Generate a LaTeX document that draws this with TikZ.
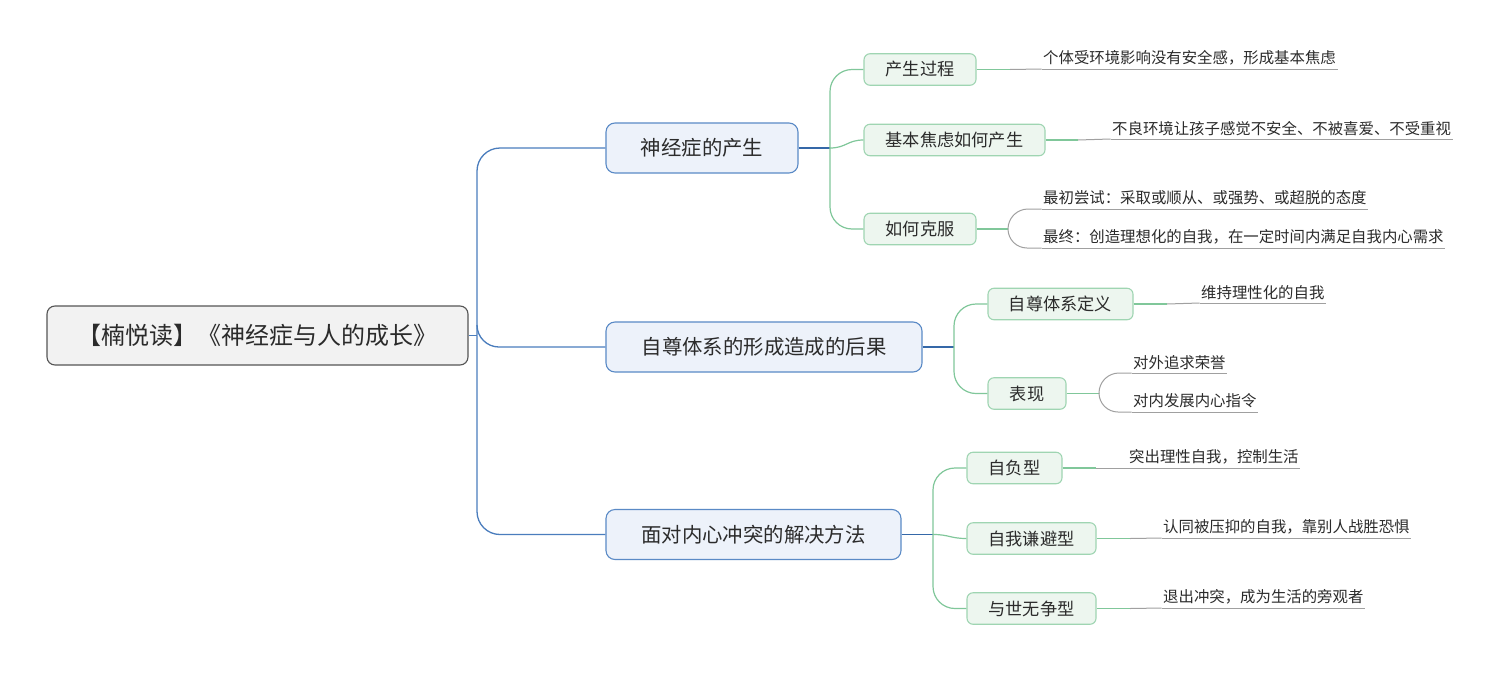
\documentclass[tikz,border=0pt]{standalone}
\usepackage{fontspec}
\setmainfont{Noto Sans CJK SC}
\definecolor{rootborder}{HTML}{555555}
\definecolor{rootfill}{HTML}{F2F2F2}
\definecolor{mainborder}{HTML}{5A8AC6}
\definecolor{mainfill}{HTML}{EDF2FA}
\definecolor{bluelink}{HTML}{4A7DBD}
\definecolor{darkbluelink}{HTML}{3568A8}
\definecolor{subborder}{HTML}{9FD5B2}
\definecolor{subfill}{HTML}{EDF6EF}
\definecolor{greenlink}{HTML}{80C79A}
\definecolor{graylink}{HTML}{A0A0A0}
\definecolor{txt}{HTML}{2B2B2B}
\begin{document}
\begin{tikzpicture}[x=1pt,y=-1pt,
  rootbox/.style={draw=rootborder, fill=rootfill, rounded corners=8pt, line width=1.1pt,
    minimum width=421pt, minimum height=59pt, inner sep=0pt,
    font=\fontsize{24}{28}\selectfont, text=txt},
  mainbox/.style={draw=mainborder, fill=mainfill, rounded corners=9pt, line width=1.1pt,
    minimum height=50pt, inner sep=0pt, font=\fontsize{20.4}{24}\selectfont, text=txt},
  subbox/.style={draw=subborder, fill=subfill, rounded corners=6pt, line width=1.1pt,
    minimum height=31.5pt, inner sep=0pt, font=\fontsize{17.2}{20}\selectfont, text=txt},
  leaf/.style={anchor=south west, inner xsep=1.5pt, inner ysep=3.5pt,
    font=\fontsize{15.4}{18}\selectfont, text=txt},
  rootline/.style={draw=bluelink, line width=1.3pt},
  mainline/.style={draw=darkbluelink, line width=1.2pt},
  greenline/.style={draw=greenlink, line width=1.2pt},
  grayline/.style={draw=graylink, line width=1pt}
]
\useasboundingbox (0,0) rectangle (1501,672);
\fill[white] (0,0) rectangle (1501,672);

% root
\node[rootbox] (root) at (257.5,335.5) {【楠悦读】《神经症与人的成长》};

% main nodes
\node[mainbox, minimum width=192pt] (m1) at (702,148) {神经症的产生};
\node[mainbox, minimum width=316pt] (m2) at (764,347) {自尊体系的形成造成的后果};
\node[mainbox, minimum width=295pt] (m3) at (753.5,534.5) {面对内心冲突的解决方法};

% sub nodes
\node[subbox, minimum width=112pt] (c11) at (920,69.5) {产生过程};
\node[subbox, minimum width=181pt] (c12) at (954.5,140) {基本焦虑如何产生};
\node[subbox, minimum width=112pt] (c13) at (920,229) {如何克服};
\node[subbox, minimum width=145pt] (c21) at (1060.5,304) {自尊体系定义};
\node[subbox, minimum width=78pt] (c22) at (1027,393.5) {表现};
\node[subbox, minimum width=95pt] (c31) at (1014.5,468) {自负型};
\node[subbox, minimum width=129pt] (c32) at (1031.5,538.5) {自我谦避型};
\node[subbox, minimum width=129pt] (c33) at (1031.5,608.5) {与世无争型};

% leaves
\node[leaf] (l11) at (1041.5,69) {个体受环境影响没有安全感，形成基本焦虑};
\node[leaf] (l12) at (1110.5,139) {不良环境让孩子感觉不安全、不被喜爱、不受重视};
\node[leaf] (l13a) at (1041.5,209) {最初尝试：采取或顺从、或强势、或超脱的态度};
\node[leaf] (l13b) at (1041.5,248) {最终：创造理想化的自我，在一定时间内满足自我内心需求};
\node[leaf] (l21) at (1199.5,303) {维持理性化的自我};
\node[leaf] (l22a) at (1131.5,373) {对外追求荣誉};
\node[leaf] (l22b) at (1131.5,412) {对内发展内心指令};
\node[leaf] (l31) at (1127.5,468) {突出理性自我，控制生活};
\node[leaf] (l32) at (1161.5,538) {认同被压抑的自我，靠别人战胜恐惧};
\node[leaf] (l33) at (1161.5,608) {退出冲突，成为生活的旁观者};

% junction coordinates
\coordinate (j0) at (477,335.5);
\coordinate (j0b) at (477,325);
\coordinate (j1) at (830,148);
\coordinate (j2) at (954,347);
\coordinate (j3) at (933,534.5);
\coordinate (k11) at (1010,69.5);
\coordinate (k12) at (1078,140);
\coordinate (k13) at (1008,229);
\coordinate (k21) at (1167,304);
\coordinate (k22) at (1099,393.5);
\coordinate (k31) at (1096,468);
\coordinate (k32) at (1130,538.5);
\coordinate (k33) at (1130,608.5);

% root connectors
\draw[rootline] (root.east) -- (j0);
\draw[rootline, rounded corners=23pt] (j0) |- (m1.west);
\draw[rootline, rounded corners=23pt] (j0) |- (m3.west);
\draw[rootline, rounded corners=22pt] (j0b) |- (m2.west);

% main to sub
\draw[mainline] (m1.east) -- (j1);
\draw[greenline, rounded corners=22pt] (j1) |- (c11.west);
\draw[greenline, rounded corners=22pt] (j1) |- (c13.west);
\draw[greenline] (j1) .. controls +(16,0) and +(-16,0) .. (c12.west);

\draw[mainline] (m2.east) -- (j2);
\draw[greenline, rounded corners=22pt] (j2) |- (c21.west);
\draw[greenline, rounded corners=22pt] (j2) |- (c22.west);

\draw[mainline] (m3.east) -- (j3);
\draw[greenline, rounded corners=22pt] (j3) |- (c31.west);
\draw[greenline, rounded corners=22pt] (j3) |- (c33.west);
\draw[greenline] (j3) .. controls +(16,0) and +(-16,0) .. (c32.west);

% sub to leaf
\draw[greenline] (c11.east) -- (k11);
\draw[grayline] (k11) .. controls +(16,0) and +(-16,0) .. (l11.south west);
\draw[greenline] (c12.east) -- (k12);
\draw[grayline] (k12) .. controls +(16,0) and +(-16,0) .. (l12.south west);
\draw[greenline] (c13.east) -- (k13);
\draw[grayline, rounded corners=20pt] (k13) |- (l13a.south west);
\draw[grayline, rounded corners=19pt] (k13) |- (l13b.south west);
\draw[greenline] (c21.east) -- (k21);
\draw[grayline] (k21) .. controls +(16,0) and +(-16,0) .. (l21.south west);
\draw[greenline] (c22.east) -- (k22);
\draw[grayline, rounded corners=20pt] (k22) |- (l22a.south west);
\draw[grayline, rounded corners=19pt] (k22) |- (l22b.south west);
\draw[greenline] (c31.east) -- (k31);
\draw[grayline] (k31) .. controls +(16,0) and +(-16,0) .. (l31.south west);
\draw[greenline] (c32.east) -- (k32);
\draw[grayline] (k32) .. controls +(16,0) and +(-16,0) .. (l32.south west);
\draw[greenline] (c33.east) -- (k33);
\draw[grayline] (k33) .. controls +(16,0) and +(-16,0) .. (l33.south west);

% leaf underlines
\foreach \l in {l11,l12,l13a,l13b,l21,l22a,l22b,l31,l32,l33}
  \draw[grayline] (\l.south west) -- (\l.south east);
\end{tikzpicture}
\end{document}
